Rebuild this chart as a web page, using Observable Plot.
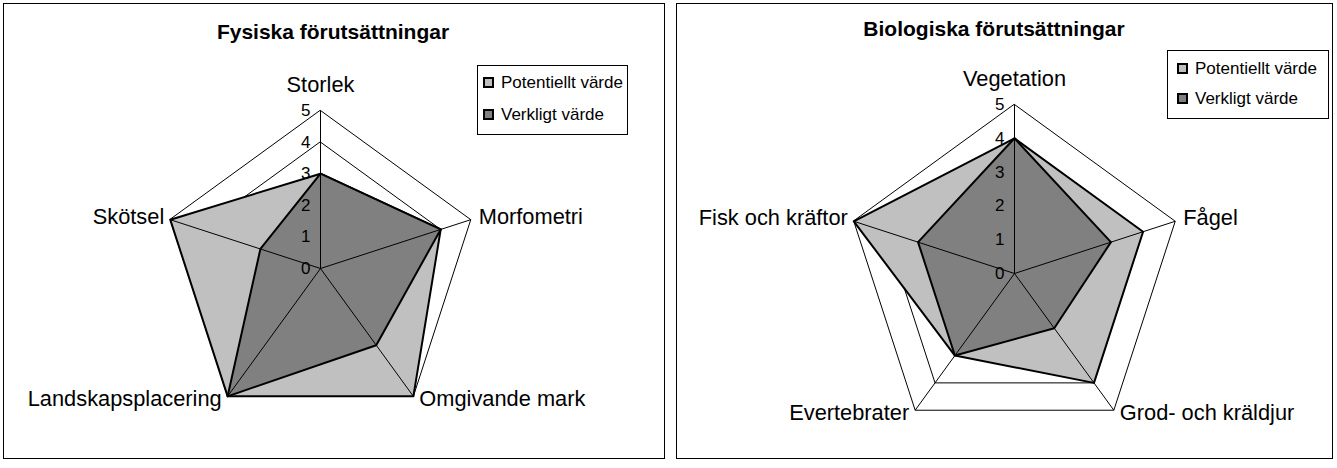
<!DOCTYPE html>
<html>
<head>
<meta charset="utf-8">
<script src="https://cdn.jsdelivr.net/npm/d3@7"></script>
<script src="https://cdn.jsdelivr.net/npm/@observablehq/plot@0.6"></script>
<style>
  html, body { margin: 0; padding: 0; background: #fff; }
  body { width: 1337px; height: 468px; position: relative; overflow: hidden;
         font-family: "Liberation Sans", Arial, sans-serif; color: #000; }
  .panel { position: absolute; border: 1px solid #000; background: #fff; }
  .panel svg { position: absolute; left: 0; top: 0; }
  .title { position: absolute; font-weight: bold; font-size: 21px; white-space: nowrap;
           transform: translateX(-50%); line-height: 1; }
  .legend { position: absolute; border: 1px solid #000; background: #fff; box-sizing: border-box; }
  .legend .item { position: absolute; display: flex; align-items: center; font-size: 17px;
                  white-space: nowrap; line-height: 1; }
  .legend .sw { width: 7px; height: 7px; border: 2px solid #000; margin-right: 7px; }
</style>
</head>
<body>
<script>
// ---- data ----
const fysCategories = ["Storlek", "Morfometri", "Omgivande mark", "Landskapsplacering", "Skötsel"];
const fysPotentiellt = [3, 4, 5, 5, 5];
const fysVerkligt = [3, 4, 3, 5, 2];

const bioCategories = ["Vegetation", "Fågel", "Grod- och kräldjur", "Evertebrater", "Fisk och kräftor"];
const bioPotentiellt = [4, 4, 4, 3, 5];
const bioVerkligt = [4, 3, 2, 3, 3];

const tickValues = [0, 1, 2, 3, 4, 5];
const seriesNames = ["Potentiellt värde", "Verkligt värde"];
const chartTitles = ["Fysiska förutsättningar", "Biologiska förutsättningar"];
const maxValue = 5;

// ---- styles ----
const seriesFill = ["#c0c0c0", "#808080"];
const font = "'Liberation Sans', Arial, sans-serif";

function angle(i, n) { return Math.PI / 2 - i * 2 * Math.PI / n; }
function polar(values, cats) {
  return values.map((v, i) => ({cat: cats[i], i, value: v,
    x: v * Math.cos(angle(i, cats.length)), y: v * Math.sin(angle(i, cats.length))}));
}

// label placement per axis: [textAnchor, dx, dy]
const labelPlacement = [["middle", 0, -25], ["start", 8, -3], ["start", 6, 3], ["end", -6, 3], ["end", -6, -3]];

function radar(cats, pot, ver, layout) {
  const n = cats.length;
  const gridRows = [];
  for (let lv = 1; lv <= maxValue; lv++) {
    cats.forEach((c, i) => gridRows.push({level: lv, x: lv * Math.cos(angle(i, n)), y: lv * Math.sin(angle(i, n))}));
  }
  const outer = polar(cats.map(() => maxValue), cats).map(d => ({...d, x0: 0, y0: 0}));
  const potRows = polar(pot, cats);
  const verRows = polar(ver, cats);
  const {cx, cy, r, width, height} = layout;
  const labelMarks = labelPlacement.map(([anchor, dx, dy], k) =>
    Plot.text(outer.filter(d => d.i === k), {x: "x", y: "y", text: "cat", textAnchor: anchor,
      dx, dy, fontSize: 21.8, fill: "#000"}));
  return Plot.plot({
    width, height,
    margin: 0,
    x: {domain: [-maxValue, maxValue], range: [cx - r, cx + r], axis: null},
    y: {domain: [-maxValue, maxValue], range: [cy + r, cy - r], axis: null},
    style: {fontFamily: font, background: "transparent", overflow: "visible"},
    marks: [
      Plot.line(gridRows, {x: "x", y: "y", z: "level", curve: "linear-closed", stroke: "#000", strokeWidth: 1}),
      Plot.line(potRows, {x: "x", y: "y", curve: "linear-closed", fill: seriesFill[0], stroke: "#000", strokeWidth: 2}),
      Plot.line(verRows, {x: "x", y: "y", curve: "linear-closed", fill: seriesFill[1], stroke: "#000", strokeWidth: 2}),
      Plot.link(outer, {x1: "x0", y1: "y0", x2: "x", y2: "y", stroke: "#000", strokeWidth: 1}),
      Plot.text(tickValues, {x: () => 0, y: d => d, text: d => String(d), textAnchor: "end", dx: -10,
        fontSize: 17, fill: "#000"}),
      ...labelMarks
    ]
  });
}

function makePanel(cfg) {
  const panel = document.createElement("div");
  panel.className = "panel";
  Object.assign(panel.style, {left: cfg.left + "px", top: cfg.top + "px", width: cfg.width + "px", height: cfg.height + "px"});
  panel.appendChild(radar(cfg.cats, cfg.pot, cfg.ver, {cx: cfg.cx, cy: cfg.cy, r: cfg.r, width: cfg.width, height: cfg.height}));
  document.body.appendChild(panel);

  const t = document.createElement("div");
  t.className = "title";
  t.textContent = cfg.title;
  Object.assign(t.style, {left: cfg.titleX + "px", top: cfg.titleY + "px"});
  document.body.appendChild(t);

  const lg = document.createElement("div");
  lg.className = "legend";
  Object.assign(lg.style, {left: cfg.lg[0] + "px", top: cfg.lg[1] + "px", width: cfg.lg[2] + "px", height: cfg.lg[3] + "px"});
  seriesNames.forEach((name, k) => {
    const it = document.createElement("div");
    it.className = "item";
    Object.assign(it.style, {left: cfg.lgItemX + "px", top: cfg.lgItemY[k] + "px"});
    const sw = document.createElement("div");
    sw.className = "sw";
    sw.style.background = seriesFill[k];
    const tx = document.createElement("span");
    tx.textContent = name;
    it.appendChild(sw); it.appendChild(tx);
    lg.appendChild(it);
  });
  document.body.appendChild(lg);
}

makePanel({cats: fysCategories, pot: fysPotentiellt, ver: fysVerkligt, title: chartTitles[0],
  left: 3, top: 3, width: 660, height: 454, cx: 316, cy: 264, r: 158,
  titleX: 333, titleY: 21, lg: [477, 65, 151, 70], lgItemX: 5, lgItemY: [8, 40]});
makePanel({cats: bioCategories, pot: bioPotentiellt, ver: bioVerkligt, title: chartTitles[1],
  left: 676, top: 3, width: 655, height: 454, cx: 337, cy: 269, r: 169,
  titleX: 994, titleY: 18, lg: [1167, 50, 162, 69], lgItemX: 9, lgItemY: [9, 39]});
</script>
</body>
</html>
